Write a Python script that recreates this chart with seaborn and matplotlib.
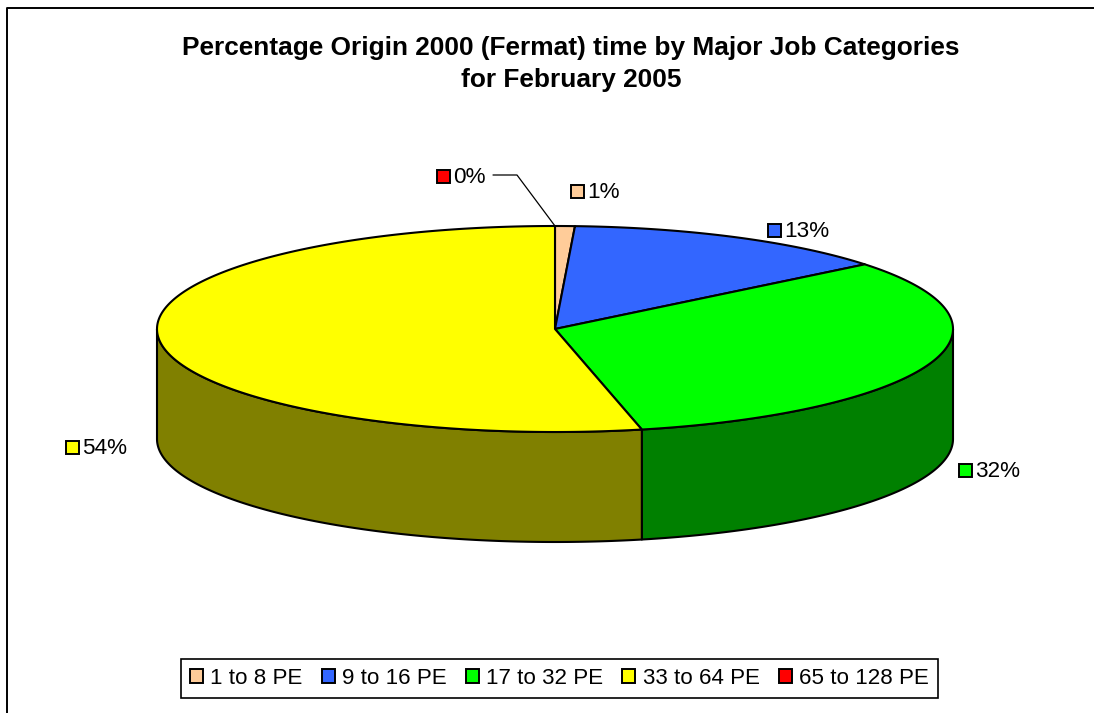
import numpy as np
import matplotlib
matplotlib.use("Agg")
import matplotlib.pyplot as plt
from matplotlib.patches import Polygon, Patch, Rectangle
import seaborn as sns

categories = ["1 to 8 PE", "9 to 16 PE", "17 to 32 PE", "33 to 64 PE", "65 to 128 PE"]
values = [0.8, 13.4, 32.3, 53.5, 0.0]
top_colors = ["#FFCC99", "#3366FF", "#00FF00", "#FFFF00", "#FF0000"]
side_colors = ["#806633", "#1A3380", "#008000", "#808000", "#800000"]
label_anchor = [(571, 191), (768, 230), (959, 470), (66, 447), (437, 176)]
title_lines = "Percentage Origin 2000 (Fermat) time by Major Job Categories\nfor February 2005"

W, H = 1094, 713
CX, CY, RX, RY, DEPTH = 555, 329, 398, 103, 110

sns.set_theme(style="white")
plt.rcParams["font.family"] = ["Liberation Sans", "DejaVu Sans"]

fig = plt.figure(figsize=(W / 100, H / 100), dpi=100, facecolor="white")
ax = fig.add_axes([0, 0, 1, 1])
ax.set_xlim(0, W)
ax.set_ylim(H, 0)
ax.axis("off")


def ell(theta, dy=0.0):
    # theta in radians, clockwise from 12 o'clock
    return np.column_stack([CX + RX * np.sin(theta), CY - RY * np.cos(theta) + dy])


# outer frame
ax.plot([6.5, 6.5, W + 5], [H + 5, 7.5, 7.5], color="black", lw=1.4, zorder=1)

cum = np.cumsum([0] + values) / sum(values) * 2 * np.pi
edge = dict(edgecolor="black", linewidth=1.5, joinstyle="round")

# side walls (front half of the rim only)
for i in range(len(values)):
    a = max(cum[i], np.pi / 2)
    b = min(cum[i + 1], 3 * np.pi / 2)
    if b > a:
        t = np.linspace(a, b, 200)
        ax.add_patch(Polygon(np.vstack([ell(t), ell(t[::-1], DEPTH)]),
                             closed=True, facecolor=side_colors[i], zorder=2, **edge))

# top slices
for i in range(len(values)):
    if values[i] <= 0:
        continue
    t = np.linspace(cum[i], cum[i + 1], 300)
    ax.add_patch(Polygon(np.vstack([[CX, CY], ell(t)]),
                         closed=True, facecolor=top_colors[i], zorder=3, **edge))

# data labels with their colour keys
for val, col, (x, y) in zip(values, top_colors, label_anchor):
    ax.add_patch(Rectangle((x, y - 6.5), 13, 13, facecolor=col, edgecolor="black", lw=1.4, zorder=4))
    ax.text(x + 16, y + 1.5, f"{val:.0f}%", fontsize=16.2, va="center", ha="left", color="black", zorder=4)

# leader line of the 0% label
ax.plot([493, 517, 555], [175, 175, 226], color="black", lw=0.9, zorder=4)

# title
ax.text(571, 64, title_lines, fontsize=18.9, fontweight="bold", ha="center", va="center",
        color="black", linespacing=1.44)

# legend
handles = [Patch(facecolor=c, edgecolor="black", lw=1.4) for c in top_colors]
leg = ax.legend(handles, categories, loc="center", ncol=5,
                bbox_to_anchor=(559.5 / W, 1 - 678.5 / H), bbox_transform=fig.transFigure,
                frameon=True, fancybox=False, framealpha=1, edgecolor="black",
                labelcolor="black", fontsize=16.1, handlelength=0.58, handleheight=0.6,
                handletextpad=0.33, columnspacing=0.85, borderpad=0.4, borderaxespad=0)
leg.get_frame().set_linewidth(1.2)

sns.despine(ax=ax, left=True, bottom=True)
fig.savefig("out.png", dpi=100, facecolor="white")
